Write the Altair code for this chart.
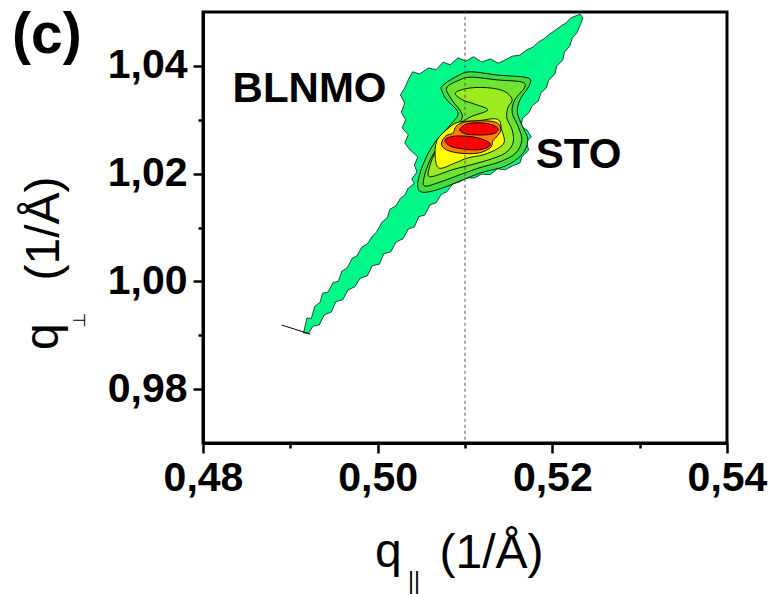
import altair as alt
import pandas as pd

# ---------------- data ----------------
x_ticks = [0.48, 0.49, 0.50, 0.51, 0.52, 0.53, 0.54]
y_ticks = [0.98, 0.99, 1.00, 1.01, 1.02, 1.03, 1.04]
x_domain = [0.48, 0.54]
y_domain = [0.97, 1.05]

# outermost contour (spring green), traced clockwise from the lower-left tip
outer_x = [0.4915, 0.4919, 0.4924, 0.4928, 0.4934, 0.4937, 0.4943, 0.4949, 0.4955, 0.4959,
           0.4965, 0.4971, 0.4976, 0.4982, 0.4988, 0.4994, 0.4999, 0.5005, 0.5011, 0.5014,
           0.5021, 0.5026, 0.5031, 0.5035, 0.5042, 0.5039, 0.5045, 0.5042, 0.5046, 0.5037,
           0.5031, 0.5035, 0.5028, 0.5032, 0.5027, 0.5031, 0.5026, 0.5031, 0.5035, 0.5040,
           0.5048, 0.5058, 0.5067, 0.5075, 0.5083, 0.5092, 0.5101, 0.5110, 0.5119, 0.5129,
           0.5138, 0.5146, 0.5154, 0.5163, 0.5171, 0.5178, 0.5184, 0.5192, 0.5197, 0.5204,
           0.5210, 0.5216, 0.5221, 0.5227, 0.5232, 0.5235,
           0.5232, 0.5228, 0.5223, 0.5220, 0.5214, 0.5212, 0.5205, 0.5203, 0.5196, 0.5193,
           0.5187, 0.5184, 0.5177, 0.5173, 0.5166, 0.5164, 0.5171, 0.5176, 0.5170, 0.5173,
           0.5165, 0.5163, 0.5154, 0.5146, 0.5137, 0.5129, 0.5119, 0.5111, 0.5102, 0.5094,
           0.5086, 0.5079, 0.5073, 0.5067, 0.5060, 0.5054, 0.5047, 0.5042, 0.5035, 0.5029,
           0.5021, 0.5015, 0.5007, 0.5002, 0.4994, 0.4988, 0.4980, 0.4974, 0.4966, 0.4960,
           0.4952, 0.4947, 0.4939, 0.4933, 0.4926, 0.4921]
outer_y = [0.9904, 0.9932, 0.9931, 0.9954, 0.9961, 0.9978, 0.9980, 0.9998, 1.0000, 1.0019,
           1.0025, 1.0043, 1.0047, 1.0064, 1.0069, 1.0084, 1.0092, 1.0110, 1.0118, 1.0134,
           1.0140, 1.0154, 1.0160, 1.0173, 1.0182, 1.0190, 1.0203, 1.0216, 1.0231, 1.0244,
           1.0257, 1.0272, 1.0285, 1.0300, 1.0314, 1.0331, 1.0346, 1.0359, 1.0374, 1.0389,
           1.0385, 1.0396, 1.0393, 1.0407, 1.0402, 1.0415, 1.0409, 1.0417, 1.0407, 1.0413,
           1.0405, 1.0411, 1.0418, 1.0420, 1.0430, 1.0435, 1.0444, 1.0452, 1.0459, 1.0467,
           1.0474, 1.0480, 1.0489, 1.0493, 1.0496, 1.0489,
           1.0476, 1.0461, 1.0452, 1.0437, 1.0426, 1.0411, 1.0400, 1.0385, 1.0374, 1.0359,
           1.0350, 1.0335, 1.0326, 1.0313, 1.0303, 1.0288, 1.0281, 1.0268, 1.0259, 1.0244,
           1.0231, 1.0220, 1.0214, 1.0207, 1.0209, 1.0198, 1.0199, 1.0192, 1.0192, 1.0185,
           1.0181, 1.0166, 1.0162, 1.0146, 1.0142, 1.0123, 1.0120, 1.0101, 1.0097, 1.0079,
           1.0073, 1.0055, 1.0051, 1.0032, 1.0029, 1.0010, 1.0006, 0.9990, 0.9984, 0.9966,
           0.9962, 0.9943, 0.9938, 0.9919, 0.9917, 0.9904]

# second contour (green)
lev2_x = [0.5074, 0.5091, 0.5106, 0.5137, 0.5171, 0.5174, 0.5163, 0.5160, 0.5166, 0.5172,
          0.5165, 0.5146, 0.5117, 0.5091, 0.5068, 0.5050, 0.5046, 0.5054, 0.5066, 0.5083,
          0.5092, 0.5079, 0.5074]
lev2_y = [1.0363, 1.0381, 1.0389, 1.0383, 1.0378, 1.0365, 1.0337, 1.0313, 1.0287, 1.0262,
          1.0235, 1.0214, 1.0201, 1.0184, 1.0170, 1.0166, 1.0184, 1.0225, 1.0259, 1.0290,
          1.0313, 1.0337, 1.0352]

# third contour (lighter green)
lev3_x = [0.5079, 0.5094, 0.5108, 0.5137, 0.5165, 0.5168, 0.5157, 0.5154, 0.5161, 0.5165,
          0.5158, 0.5140, 0.5115, 0.5091, 0.5069, 0.5054, 0.5053, 0.5060, 0.5071, 0.5086,
          0.5097, 0.5085]
lev3_y = [1.0359, 1.0374, 1.0379, 1.0374, 1.0370, 1.0359, 1.0337, 1.0313, 1.0287, 1.0262,
          1.0238, 1.0222, 1.0210, 1.0196, 1.0183, 1.0177, 1.0192, 1.0225, 1.0253, 1.0281,
          1.0307, 1.0337]

# fourth contour (yellow-green, S-shaped with upper lobe)
lev4_x = [0.5097, 0.5089, 0.5106, 0.5129, 0.5146, 0.5154, 0.5149, 0.5148, 0.5154, 0.5155,
          0.5146, 0.5126, 0.5106, 0.5085, 0.5066, 0.5058, 0.5060, 0.5066, 0.5074, 0.5089,
          0.5106, 0.5126, 0.5111]
lev4_y = [1.0337, 1.0350, 1.0359, 1.0359, 1.0352, 1.0337, 1.0322, 1.0303, 1.0281, 1.0257,
          1.0238, 1.0225, 1.0216, 1.0207, 1.0196, 1.0196, 1.0216, 1.0240, 1.0262, 1.0287,
          1.0305, 1.0318, 1.0329]

# yellow contour
yel_x = [0.5068, 0.5083, 0.5094, 0.5114, 0.5137, 0.5142, 0.5145, 0.5137, 0.5121, 0.5103,
         0.5089, 0.5071, 0.5066]
yel_y = [1.0262, 1.0287, 1.0296, 1.0298, 1.0301, 1.0281, 1.0259, 1.0246, 1.0235, 1.0229,
         1.0220, 1.0210, 1.0229]

# orange contour ("8" shape)
ora_x = [0.5073, 0.5078, 0.5086, 0.5090, 0.5100, 0.5123, 0.5137, 0.5141, 0.5136, 0.5132,
         0.5129, 0.5115, 0.5094, 0.5079]
ora_y = [1.0255, 1.0270, 1.0275, 1.0288, 1.0296, 1.0298, 1.0294, 1.0281, 1.0268, 1.0261,
         1.0248, 1.0238, 1.0238, 1.0244]

# red peaks
red1_x = [0.5094, 0.5099, 0.5108, 0.5121, 0.5132, 0.5138, 0.5134, 0.5124, 0.5110, 0.5100]
red1_y = [1.0281, 1.0290, 1.0294, 1.0294, 1.0290, 1.0283, 1.0275, 1.0272, 1.0272, 1.0274]
red2_x = [0.5077, 0.5083, 0.5094, 0.5110, 0.5123, 0.5129, 0.5125, 0.5113, 0.5097, 0.5083]
red2_y = [1.0262, 1.0268, 1.0270, 1.0268, 1.0262, 1.0255, 1.0248, 1.0244, 1.0246, 1.0251]

# short black stub at the lower-left tip
stub_x = [0.4890, 0.4923]
stub_y = [0.9919, 0.9902]

# dotted reference line
ref_x = 0.51
ref_y = [0.9706, 1.05]

labels_txt = ["BLNMO", "STO"]
labels_x = [0.4922, 0.5230]
labels_y = [1.0333, 1.0210]

# ---------------- chart ----------------
FONT = "Liberation Sans"
unit_title = "(1/Å)"

is_major = "round(datum.value*100) % 2 == 0"
label_expr = f"{is_major} ? replace(format(datum.value, '.2f'), '.', ',') : ''"
tick_size = {"condition": {"test": f"!({is_major})", "value": 5}, "value": 10}

x_enc = alt.X("x:Q",
              scale=alt.Scale(domain=x_domain, nice=False, zero=False),
              axis=alt.Axis(values=x_ticks, labelExpr=label_expr, tickSize=tick_size,
                            labelPadding=5, labelFlush=False, labelOverlap=False,
                            title=unit_title, titleX=236, titleY=124,
                            titleBaseline="alphabetic", titleAlign="left",
                            titleFontSize=48, titleFontWeight="normal"))
y_enc = alt.Y("y:Q",
              scale=alt.Scale(domain=y_domain, nice=False, zero=False),
              axis=alt.Axis(values=y_ticks, labelExpr=label_expr, tickSize=tick_size,
                            labelPadding=6, labelOverlap=False,
                            title=unit_title, titleAngle=270, titleX=-145, titleY=268,
                            titleBaseline="alphabetic", titleAlign="left",
                            titleFontSize=48, titleFontWeight="normal"))


def polygon(xs, ys, fill, width=0.9, interp="cardinal-closed"):
    df = pd.DataFrame({"x": list(xs), "y": list(ys), "i": range(len(xs))})
    return alt.Chart(df).mark_line(fill=fill, stroke="black", strokeWidth=width,
                                   strokeJoin="round", interpolate=interp).encode(
        x=x_enc, y=y_enc, order="i:Q")


layers = [
    polygon(outer_x, outer_y, "#00F888", 0.7, "linear-closed"),
    polygon(lev2_x, lev2_y, "#40DC40"),
    polygon(lev3_x, lev3_y, "#6CE430"),
    polygon(lev4_x, lev4_y, "#9AEC1E"),
    polygon(yel_x, yel_y, "#FFFF00"),
    polygon(ora_x, ora_y, "#FF8000"),
    polygon(red1_x, red1_y, "#FF0000"),
    polygon(red2_x, red2_y, "#FF0000"),
]

stub = alt.Chart(pd.DataFrame({"x": stub_x, "y": stub_y, "i": [0, 1]})).mark_line(
    color="black", strokeWidth=1).encode(x=x_enc, y=y_enc, order="i:Q")

ref = alt.Chart(pd.DataFrame({"x": [ref_x], "y": [ref_y[0]], "y2": [ref_y[1]]})).mark_rule(
    color="#555555", strokeWidth=1, strokeDash=[3, 3]).encode(x=x_enc, y=y_enc, y2="y2:Q")

labels = alt.Chart(pd.DataFrame({"x": labels_x, "y": labels_y, "t": labels_txt})).mark_text(
    font=FONT, fontSize=42, fontWeight="bold", color="black", align="center",
    baseline="alphabetic").encode(x=x_enc, y=y_enc, text="t:N")

panel_tag = alt.Chart(pd.DataFrame({"t": ["(c)"]})).mark_text(
    font=FONT, fontSize=57, fontWeight="bold", color="black", align="left",
    baseline="alphabetic").encode(x=alt.value(-191), y=alt.value(41), text="t:N")

# "q" of the axis titles with its subscript
q_x = alt.Chart(pd.DataFrame({"t": ["q"]})).mark_text(
    font=FONT, fontSize=48, color="black", align="left", baseline="alphabetic").encode(
    x=alt.value(172), y=alt.value(555), text="t:N")
sub_par = alt.Chart(pd.DataFrame({"t": ["||"]})).mark_text(
    font=FONT, fontSize=23, color="black", align="center", baseline="middle").encode(
    x=alt.value(211), y=alt.value(570), text="t:N")

q_y = alt.Chart(pd.DataFrame({"t": ["q"]})).mark_text(
    font=FONT, fontSize=48, color="black", align="left", baseline="alphabetic",
    angle=270).encode(x=alt.value(-145), y=alt.value(338), text="t:N")
sub_perp = alt.Chart(pd.DataFrame({"t": ["⊥"]})).mark_text(
    font="DejaVu Sans", fontSize=17, color="black", align="center", baseline="middle",
    angle=270).encode(x=alt.value(-123), y=alt.value(308), text="t:N")

chart = alt.layer(*layers, stub, ref, labels, panel_tag, q_x, sub_par, q_y,
                  sub_perp).properties(
    width=524, height=431,
    autosize=alt.AutoSizeParams(type="none"),
    padding={"left": 203, "top": 12, "right": 47, "bottom": 151},
    background="white",
).configure_view(stroke="black", strokeWidth=3).configure_axis(
    domainColor="black", domainWidth=3, tickColor="black", tickWidth=2.5,
    labelFont=FONT, labelFontWeight="bold", labelFontSize=41, labelColor="black",
    titleFont=FONT, titleColor="black", grid=False,
)

chart.save("out.html", embed_options={"renderer": "svg", "actions": False})
